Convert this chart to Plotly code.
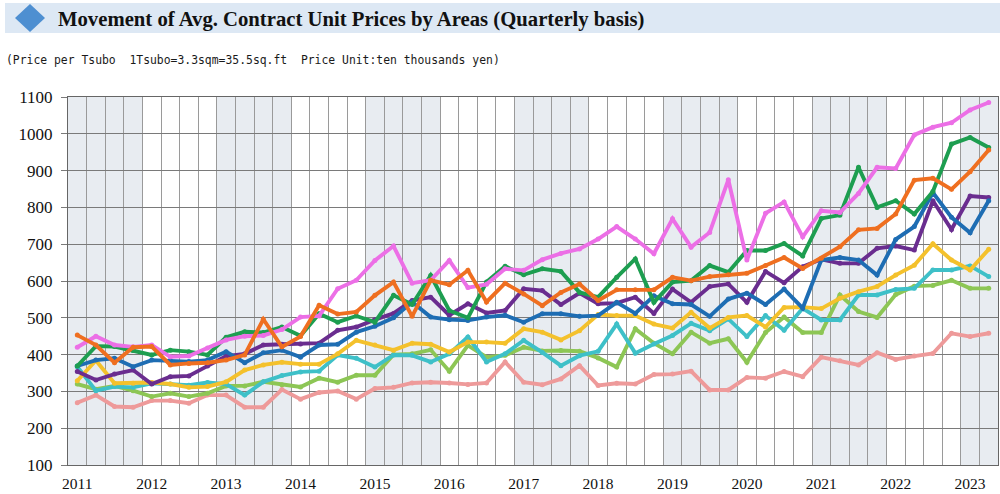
import plotly.graph_objects as go

years = list(range(2011, 2024))
n_quarters = 50
quarters = list(range(n_quarters))

pink = [420, 450, 426, 421, 426, 394, 396, 418, 440, 450, 452, 468, 502, 505, 579, 602, 656, 695, 594, 602,
        656, 582, 591, 633, 629, 658, 675, 687, 714, 748, 714, 674, 769, 692, 732, 875, 657, 784, 815, 720,
        791, 786, 838, 909, 906, 997, 1018, 1030, 1065, 1085]
green = [369, 423, 422, 411, 399, 412, 408, 399, 447, 462, 460, 475, 451, 511, 488, 505, 488, 561, 536, 615,
         520, 500, 597, 640, 617, 633, 626, 569, 556, 610, 660, 542, 597, 601, 642, 624, 683, 683, 702, 668,
         770, 779, 909, 800, 818, 782, 843, 972, 990, 963]
orange = [453, 426, 378, 420, 422, 372, 376, 378, 385, 399, 496, 421, 449, 534, 510, 516, 561, 597, 504, 602,
          590, 629, 543, 594, 565, 533, 569, 592, 547, 576, 576, 576, 610, 601, 612, 617, 621, 642, 664, 634,
          662, 693, 739, 743, 782, 874, 879, 849, 897, 956]
blue = [369, 385, 390, 367, 385, 384, 381, 385, 408, 378, 405, 412, 393, 426, 428, 461, 477, 500, 543, 502,
        495, 493, 502, 507, 488, 511, 511, 504, 506, 542, 512, 560, 538, 536, 504, 551, 567, 536, 578, 526,
        657, 664, 657, 616, 713, 748, 840, 773, 731, 818]
purple = [354, 331, 347, 358, 320, 340, 342, 369, 396, 402, 426, 428, 429, 431, 466, 475, 495, 512, 547, 556,
          507, 538, 513, 520, 579, 574, 536, 567, 538, 540, 556, 512, 578, 542, 585, 592, 542, 626, 595, 639,
          659, 648, 648, 689, 695, 684, 818, 740, 831, 827]
yellow = [329, 384, 322, 322, 324, 320, 311, 313, 326, 358, 372, 379, 374, 374, 402, 439, 426, 412, 431, 428,
          407, 434, 434, 431, 470, 461, 440, 465, 509, 506, 506, 483, 472, 515, 472, 501, 506, 475, 528, 529,
          525, 553, 571, 585, 616, 643, 701, 657, 630, 686]
cyan = [367, 302, 313, 311, 322, 320, 317, 324, 320, 290, 326, 343, 353, 355, 399, 390, 366, 399, 398, 380,
        402, 448, 380, 402, 439, 406, 370, 397, 409, 483, 404, 429, 452, 485, 465, 497, 449, 506, 466, 526,
        494, 494, 562, 562, 577, 580, 630, 630, 641, 612]
lightgreen = [320, 306, 315, 302, 286, 295, 286, 295, 315, 315, 326, 318, 312, 336, 325, 344, 344, 400, 402, 413,
              355, 425, 393, 398, 420, 410, 411, 409, 391, 366, 470, 431, 402, 461, 431, 443, 379, 460, 502, 460,
              460, 562, 517, 501, 563, 586, 588, 602, 580, 580]
salmon = [269, 290, 259, 257, 275, 275, 268, 290, 290, 257, 257, 305, 279, 297, 301, 279, 308, 311, 323, 325,
          323, 319, 323, 380, 325, 318, 334, 370, 316, 322, 320, 346, 347, 355, 304, 304, 338, 336, 354, 340,
          393, 383, 372, 405, 387, 396, 403, 458, 449, 458]

series = [
    ("salmon", salmon, "#EE9A9A"),
    ("lightgreen", lightgreen, "#8DC655"),
    ("cyan", cyan, "#3EC0C8"),
    ("yellow", yellow, "#F4C12C"),
    ("purple", purple, "#6A2D8F"),
    ("blue", blue, "#1E6DB3"),
    ("green", green, "#1D9E50"),
    ("pink", pink, "#EC6FE6"),
    ("orange", orange, "#EF6F20"),
]

W, H = 1000, 494
L, R, T, B = 68, 2, 97, 29
PW, PH = W - L - R, H - T - B


def px(x):
    return (x - L) / PW


def py(y):
    return (H - B - y) / PH


fig = go.Figure()
for name, vals, col in series:
    fig.add_trace(go.Scatter(x=quarters, y=vals, mode="lines+markers", name=name,
                             line=dict(color=col, width=3.9),
                             marker=dict(color=col, size=5), showlegend=False,
                             hoverinfo="skip"))

shapes = []
for k, yr in enumerate(years):
    if k % 2 == 0:
        shapes.append(dict(type="rect", xref="x", yref="paper", x0=k * 4 - 0.5,
                           x1=min(k * 4 + 3.5, n_quarters - 0.5), y0=0, y1=1,
                           fillcolor="#E8ECF1", line=dict(width=0), layer="below"))
# title bar
shapes.append(dict(type="rect", xref="paper", yref="paper", x0=px(5), x1=px(1000),
                   y0=py(33), y1=py(3), fillcolor="#DDE8F4", line=dict(width=0), layer="below"))
cx, cy = 30, 18
path = "M {} {} L {} {} L {} {} L {} {} Z".format(px(cx - 15), py(cy), px(cx), py(cy - 14),
                                                  px(cx + 15), py(cy), px(cx), py(cy + 14))
shapes.append(dict(type="path", xref="paper", yref="paper", path=path,
                   fillcolor="#4E8FD1", line=dict(width=0)))

annotations = [
    dict(text="<b>Movement of Avg. Contract Unit Prices by Areas (Quarterly basis)</b>",
         xref="paper", yref="paper", x=px(56), y=py(19), xanchor="left", yanchor="middle",
         showarrow=False, font=dict(family="Liberation Serif", size=20.7, color="#111")),
    dict(text="(Price per Tsubo  1Tsubo=3.3sqm=35.5sq.ft  Price Unit:ten thousands yen)",
         xref="paper", yref="paper", x=px(4), y=py(60), xanchor="left", yanchor="middle",
         showarrow=False, font=dict(family="DejaVu Sans Mono", size=11.4, color="#1a1a1a")),
]

fig.update_layout(
    width=W, height=H,
    margin=dict(l=L, r=R, t=T, b=B),
    paper_bgcolor="white", plot_bgcolor="white",
    shapes=shapes, annotations=annotations,
    xaxis=dict(range=[-0.5, n_quarters - 0.5], tickmode="array",
               tickvals=[k * 4 for k in range(len(years))], ticktext=[str(y) for y in years],
               showgrid=False, ticks="", zeroline=False, ticklabelstandoff=4,
               showline=True, linecolor="#666", linewidth=1, mirror=True,
               tickfont=dict(family="Liberation Serif", size=15.5, color="#111"),
               minor=dict(tickmode="array", tickvals=[q - 0.5 for q in range(n_quarters + 1)],
                          showgrid=True, gridcolor="#9A9A9A", gridwidth=1, ticks="")),
    yaxis=dict(range=[100, 1100], dtick=100, tick0=100, showgrid=True, gridcolor="#7A7A7A",
               gridwidth=1, ticks="outside", ticklen=6, tickcolor="#7A7A7A", zeroline=False,
               ticklabelstandoff=5,
               showline=True, linecolor="#666", linewidth=1, mirror=True,
               tickfont=dict(family="Liberation Serif", size=17, color="#111")),
)

fig.write_html("out.html", config={"displayModeBar": False},
               post_script="document.body.style.margin='0';document.body.style.overflow='hidden';")
